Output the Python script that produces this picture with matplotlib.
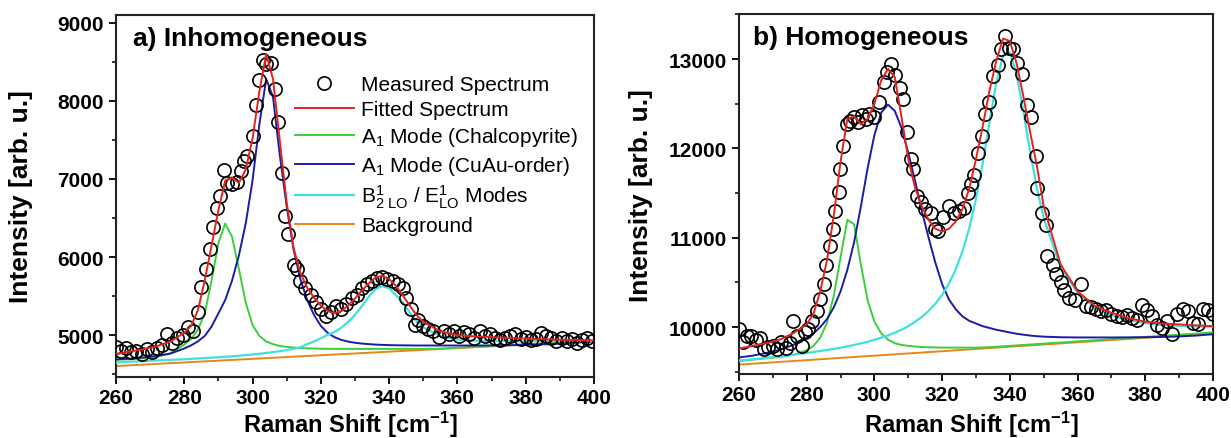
import matplotlib
matplotlib.use("Agg")
import matplotlib.pyplot as plt
from matplotlib.ticker import MultipleLocator

plt.rcParams['font.family'] = ['Liberation Sans', 'DejaVu Sans']
plt.rcParams['mathtext.fontset'] = 'custom'
plt.rcParams['mathtext.rm'] = 'Liberation Sans'
plt.rcParams['mathtext.it'] = 'Liberation Sans:italic'
plt.rcParams['mathtext.bf'] = 'Liberation Sans:bold'

# ---------------- data ----------------
X_FIT = [260, 264, 268, 272, 276, 280, 282, 284, 286, 288, 290, 292, 294, 296, 298,
         300, 302, 304, 306, 308, 310, 312, 314, 316, 318, 320, 322, 324, 326, 328,
         330, 332, 334, 336, 338, 340, 342, 344, 346, 348, 350, 355, 360, 365, 370,
         375, 380, 385, 390, 395, 400]

# Panel a) inhomogeneous
MEAS_A_X = [260.0, 261.5, 263.0, 264.5, 266.0, 267.5, 269.0, 270.5, 272.0, 273.5, 275.0,
            276.5, 278.0, 279.5, 281.0, 282.5, 284.0, 285.0, 286.5, 287.5, 288.5, 289.5,
            290.5, 291.5, 292.5, 294.0, 295.5, 296.5, 297.5, 298.5, 300.0, 301.0, 302.0,
            303.0, 304.0, 305.5, 306.5, 307.5, 308.5, 309.5, 310.5, 312.0, 313.0, 314.0,
            315.5, 317.0, 318.5, 320.0, 321.5, 323.0, 324.5, 326.0, 327.5, 329.0, 330.5,
            332.0, 333.5, 335.0, 336.5, 338.0, 339.5, 341.0, 342.5, 344.0, 345.0, 346.5,
            347.5, 348.5, 350.0, 351.5, 353.0, 354.5, 356.0, 357.5, 359.0, 360.5, 362.0,
            363.5, 365.0, 366.5, 368.0, 369.5, 371.0, 372.5, 374.0, 375.5, 377.0, 378.5,
            380.0, 381.5, 383.0, 384.5, 386.0, 387.5, 389.0, 390.5, 392.0, 393.5, 395.0,
            396.5, 398.0, 399.5]
MEAS_A_Y = [4850, 4800, 4830, 4780, 4800, 4760, 4820, 4790, 4830, 4870, 5010,
            4900, 4960, 5000, 5100, 5060, 5300, 5620, 5850, 6100, 6380, 6630,
            6780, 7120, 6950, 6940, 6960, 7100, 7230, 7300, 7550, 7950, 8270,
            8520, 8470, 8480, 8150, 7730, 7080, 6520, 6300, 5900, 5850, 5700,
            5600, 5520, 5430, 5330, 5250, 5300, 5380, 5330, 5400, 5480, 5520,
            5600, 5650, 5700, 5730, 5750, 5720, 5700, 5660, 5600, 5480, 5330,
            5130, 5200, 5120, 5080, 5050, 4980, 5050, 5020, 5050, 4990, 5040,
            5020, 4960, 5050, 4990, 5020, 4970, 4940, 4960, 4990, 5010, 4950,
            4980, 4940, 4950, 5030, 4990, 4960, 4930, 4960, 4920, 4950, 4900,
            4940, 4960, 4920]
FIT_A = [4760, 4790, 4820, 4860, 4920, 5030, 5120, 5320, 5700, 6150, 6600, 6980, 7020, 6950, 7120,
         7520, 8120, 8600, 8280, 7480, 6700, 6120, 5800, 5610, 5480, 5380, 5310, 5280, 5310, 5380,
         5470, 5570, 5660, 5740, 5760, 5720, 5630, 5510, 5380, 5260, 5170, 5050, 5000, 4985, 4975,
         4965, 4955, 4948, 4942, 4938, 4935]
CHALCO_A = [4685, 4692, 4705, 4725, 4770, 4880, 4950, 5070, 5280, 5700, 6180, 6430, 6260, 5850, 5420,
            5130, 4990, 4920, 4885, 4862, 4850, 4842, 4836, 4832, 4829, 4827, 4826, 4825, 4825, 4825,
            4825, 4825, 4825, 4825, 4825, 4825, 4825, 4825, 4825, 4825, 4825, 4828, 4840, 4850, 4862,
            4873, 4885, 4896, 4907, 4918, 4928]
CUAU_A = [4690, 4700, 4715, 4735, 4765, 4830, 4870, 4920, 4990, 5110, 5280, 5450, 5700, 6020, 6430,
          6980, 7700, 8280, 8050, 7300, 6650, 6100, 5720, 5450, 5260, 5120, 5030, 4975, 4940, 4918,
          4903, 4893, 4886, 4880, 4876, 4873, 4871, 4870, 4869, 4868, 4868, 4868, 4868, 4868, 4869,
          4871, 4875, 4882, 4892, 4905, 4922]
B2E_A = [4650, 4660, 4668, 4676, 4684, 4692, 4697, 4702, 4707, 4712, 4718, 4724, 4730, 4737, 4745,
         4753, 4762, 4772, 4783, 4795, 4810, 4826, 4845, 4885, 4920, 4960, 5005, 5040, 5095, 5170,
         5260, 5370, 5490, 5590, 5630, 5600, 5510, 5420, 5290, 5180, 5100, 4990, 4945, 4930, 4925,
         4924, 4924, 4924, 4925, 4926, 4928]
BG_A = [4605, 4614, 4623, 4633, 4642, 4651, 4656, 4660, 4665, 4669, 4674, 4679, 4683, 4688, 4692,
        4697, 4702, 4706, 4711, 4715, 4720, 4725, 4729, 4734, 4738, 4743, 4748, 4752, 4757, 4761,
        4766, 4771, 4775, 4780, 4784, 4789, 4794, 4798, 4803, 4807, 4812, 4823, 4835, 4846, 4858,
        4870, 4881, 4893, 4904, 4916, 4927]

# Panel b) homogeneous
MEAS_B_X = [260.0, 261.3, 262.5, 263.7, 265.0, 266.2, 267.4, 268.6, 270.0, 271.2, 272.5,
            274.0, 275.0, 276.0, 277.0, 278.5, 279.5, 280.5, 281.5, 283.0, 284.0, 285.0,
            285.8, 286.9, 287.9, 288.5, 289.4, 289.8, 290.8, 291.8, 292.8, 294.0, 295.3,
            296.3, 297.5, 298.3, 299.8, 301.3, 302.8, 303.8, 305.0, 306.2, 307.5, 308.5,
            309.6, 310.8, 311.5, 312.7, 313.7, 315.0, 316.7, 318.0, 318.9, 320.4, 321.9,
            323.4, 324.9, 326.5, 327.5, 328.5, 329.5, 330.5, 331.7, 332.7, 333.7, 335.1,
            336.6, 337.5, 338.6, 339.8, 340.8, 342.1, 343.6, 345.1, 346.1, 347.6, 348.1,
            349.6, 350.6, 351.1, 352.6, 353.6, 355.1, 356.1, 357.6, 359.1, 361.0, 362.5,
            364.0, 365.5, 367.0, 368.5, 370.0, 371.5, 373.0, 374.5, 376.0, 377.5, 379.0,
            380.5, 382.0, 383.5, 385.0, 386.5, 388.0, 389.5, 391.0, 392.5, 394.0, 395.5,
            397.0, 398.5, 400.0]
MEAS_B_Y = [9980, 9830, 9900, 9900, 9850, 9880, 9760, 9780, 9790, 9760, 9830,
            9770, 9820, 10070, 9900, 9790, 9940, 9980, 10070, 10180, 10310, 10480,
            10700, 10910, 11100, 11300, 11510, 11770, 12030, 12270, 12310, 12350, 12300,
            12370, 12330, 12390, 12350, 12520, 12740, 12850, 12940, 12820, 12680, 12550,
            12180, 11880, 11770, 11470, 11400, 11320, 11280, 11100, 11080, 11230, 11360,
            11280, 11300, 11330, 11500, 11600, 11700, 11950, 12140, 12390, 12520, 12810,
            12930, 13110, 13260, 13120, 13110, 12950, 12830, 12480, 12350, 11920, 11560,
            11280, 11140, 10800, 10690, 10590, 10500, 10410, 10330, 10300, 10480, 10240,
            10230, 10200, 10180, 10190, 10150, 10120, 10110, 10140, 10100, 10080, 10250,
            10190, 10120, 10020, 9990, 10070, 9920, 10150, 10200, 10180, 10050, 10040,
            10200, 10190, 10150]
FIT_B = [9760, 9790, 9820, 9860, 9930, 10030, 10150, 10400, 10750, 11250, 11850, 12330, 12360, 12270, 12330,
         12500, 12760, 12890, 12800, 12350, 11880, 11560, 11350, 11200, 11100, 11070, 11100, 11180, 11320, 11550,
         11880, 12250, 12650, 12980, 13230, 13200, 12950, 12580, 12180, 11800, 11350, 10700, 10400, 10240, 10160,
         10100, 10060, 10040, 10030, 10020, 10010]
CHALCO_B = [9620, 9635, 9650, 9665, 9690, 9740, 9790, 9880, 10050, 10350, 10780, 11200, 11150, 10700, 10300,
            10060, 9930, 9860, 9820, 9800, 9790, 9782, 9777, 9774, 9772, 9770, 9770, 9770, 9770, 9770,
            9770, 9772, 9775, 9780, 9785, 9790, 9795, 9800, 9805, 9810, 9815, 9827, 9840, 9852, 9865,
            9877, 9890, 9902, 9915, 9927, 9940]
CUAU_B = [9660, 9680, 9710, 9745, 9800, 9880, 9930, 10000, 10090, 10220, 10400, 10640, 10950, 11350, 11780,
          12150, 12400, 12490, 12420, 12230, 11950, 11640, 11300, 11000, 10720, 10480, 10310, 10200, 10120, 10070,
          10040, 10010, 9990, 9970, 9955, 9940, 9925, 9915, 9905, 9898, 9893, 9886, 9884, 9884, 9884,
          9885, 9887, 9890, 9895, 9905, 9920]
B2E_B = [9625, 9640, 9656, 9672, 9690, 9710, 9721, 9732, 9744, 9756, 9770, 9784, 9800, 9817, 9836,
         9857, 9880, 9907, 9937, 9971, 10011, 10058, 10113, 10180, 10261, 10361, 10486, 10644, 10848, 11105,
         11432, 11836, 12294, 12739, 13041, 13076, 12829, 12412, 11958, 11552, 11218, 10671, 10383, 10224, 10132,
         10077, 10044, 10023, 10013, 10007, 10006]
BG_B = [9580, 9590, 9600, 9610, 9620, 9630, 9635, 9640, 9645, 9650, 9655, 9660, 9665, 9670, 9675,
        9680, 9685, 9690, 9695, 9700, 9705, 9710, 9715, 9720, 9725, 9730, 9735, 9740, 9745, 9750,
        9755, 9760, 9765, 9770, 9775, 9780, 9785, 9790, 9795, 9800, 9805, 9817, 9830, 9842, 9855,
        9867, 9880, 9892, 9905, 9917, 9930]

XTICKS = [260, 280, 300, 320, 340, 360, 380, 400]
YTICKS_A = [5000, 6000, 7000, 8000, 9000]
YTICKS_B = [10000, 11000, 12000, 13000]

LABELS = ["Measured Spectrum", "Fitted Spectrum",
          r"A$_{\mathrm{1}}$ Mode (Chalcopyrite)",
          r"A$_{\mathrm{1}}$ Mode (CuAu-order)",
          r"B$_{\mathrm{2\ LO}}^{\mathrm{1}}$ / E$_{\mathrm{LO}}^{\mathrm{1}}$ Modes",
          "Background"]

C_RED = '#e3231e'
C_GREEN = '#3ccf3c'
C_BLUE = '#1c1ca6'
C_CYAN = '#3fe0e0'
C_ORANGE = '#e8861a'

fig = plt.figure(figsize=(12.31, 4.39), dpi=100)
ax_a = fig.add_axes([0.0942, 0.139, 0.3883, 0.8246])
ax_b = fig.add_axes([0.6003, 0.1458, 0.3851, 0.8193])


def draw(ax, mx, my, fit, ch, cu, b2, bg):
    h_bg, = ax.plot(X_FIT, bg, color=C_ORANGE, lw=1.4, zorder=2)
    h_ch, = ax.plot(X_FIT, ch, color=C_GREEN, lw=1.4, zorder=3)
    h_cu, = ax.plot(X_FIT, cu, color=C_BLUE, lw=1.4, zorder=3)
    h_b2, = ax.plot(X_FIT, b2, color=C_CYAN, lw=1.6, zorder=3)
    h_m, = ax.plot(mx, my, ls='none', marker='o', ms=9.5, mfc='none', mec='black',
                   mew=1.2, zorder=4)
    h_fit, = ax.plot(X_FIT, fit, color=C_RED, lw=1.4, zorder=5)
    return [h_m, h_fit, h_ch, h_cu, h_b2, h_bg]


def style(ax, yticks, ylim, title, tx, ylab_x, xlab_y):
    ax.set_xlim(260, 400)
    ax.set_ylim(*ylim)
    ax.set_xticks(XTICKS)
    ax.set_yticks(yticks)
    ax.xaxis.set_minor_locator(MultipleLocator(10))
    ax.yaxis.set_minor_locator(MultipleLocator(500))
    ax.tick_params(which='major', direction='out', length=5, width=1.3,
                   labelsize=15, top=False, right=False, pad=4)
    ax.tick_params(axis='x', which='major', pad=3)
    ax.tick_params(which='minor', direction='out', length=3, width=1.1,
                   top=False, right=False)
    for lab in ax.get_xticklabels() + ax.get_yticklabels():
        lab.set_fontweight('bold')
    for s in ax.spines.values():
        s.set_linewidth(1.5)
        s.set_color('#222222')
    ax.set_xlabel(r"Raman Shift [cm$^{\mathbf{-1}}$]", fontsize=17, fontweight='bold')
    ax.set_ylabel("Intensity [arb. u.]", fontsize=19, fontweight='bold')
    ax.xaxis.set_label_coords(0.49, xlab_y)
    ax.yaxis.set_label_coords(ylab_x, 0.5)
    ax.text(tx, 0.918, title, transform=ax.transAxes, fontsize=19,
            fontweight='bold', ha='left', va='baseline')


handles = draw(ax_a, MEAS_A_X, MEAS_A_Y, FIT_A, CHALCO_A, CUAU_A, B2E_A, BG_A)
draw(ax_b, MEAS_B_X, MEAS_B_Y, FIT_B, CHALCO_B, CUAU_B, B2E_B, BG_B)

style(ax_a, YTICKS_A, (4465, 9100), "a) Inhomogeneous", 0.036, -0.174, -0.087)
style(ax_b, YTICKS_B, (9475, 13500), "b) Homogeneous", 0.03, -0.181, -0.0958)

leg = ax_a.legend(handles, LABELS, loc='upper left', bbox_to_anchor=(0.375, 0.833),
                  frameon=False, fontsize=15, handlelength=2.8, handletextpad=0.35,
                  labelspacing=0.28, borderpad=0, borderaxespad=0)

fig.savefig("out.png", dpi=100)
